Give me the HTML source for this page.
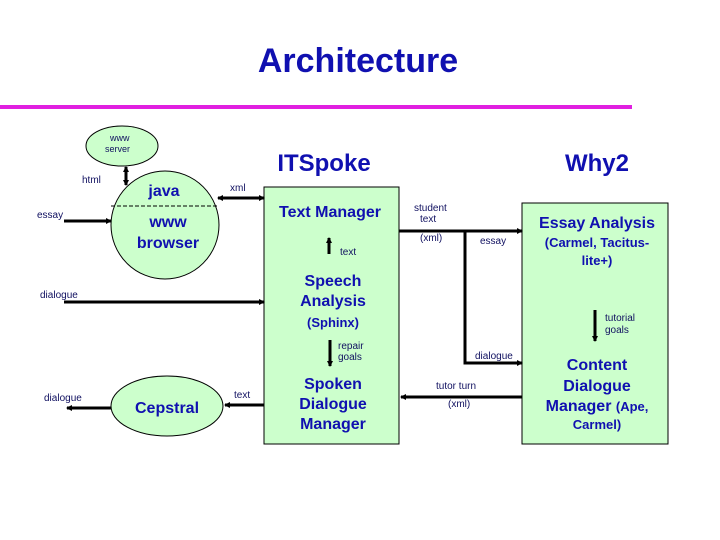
<!DOCTYPE html>
<html><head><style>
body{margin:0;background:#fff;}
svg{display:block;font-family:"Liberation Sans",Arial,sans-serif;}
.b{fill:#1010b0;font-weight:bold;text-anchor:middle;}
.s{fill:#101060;font-size:10px;}
</style></head><body>
<svg width="720" height="540" viewBox="0 0 720 540">
<defs>
<marker id="a" markerWidth="6" markerHeight="6" refX="5" refY="3" orient="auto" markerUnits="userSpaceOnUse" viewBox="0 0 6 6"><path d="M0,0L6,3L0,6z" fill="#000"/></marker>
<marker id="as" markerWidth="6" markerHeight="6" refX="1" refY="3" orient="auto" markerUnits="userSpaceOnUse" viewBox="0 0 6 6"><path d="M6,0L0,3L6,6z" fill="#000"/></marker>
</defs>
<text x="358" y="72" class="b" style="font-size:34px">Architecture</text>
<rect x="0" y="105" width="632" height="4" fill="#e020e0"/>
<rect x="264" y="187" width="135" height="257" fill="#ccffcc" stroke="#000"/>
<rect x="522" y="203" width="146" height="241" fill="#ccffcc" stroke="#000"/>
<ellipse cx="122" cy="146" rx="36" ry="20" fill="#ccffcc" stroke="#000"/>
<circle cx="165" cy="225" r="54" fill="#ccffcc" stroke="#000"/>
<line x1="111" y1="206" x2="219" y2="206" stroke="#000" stroke-dasharray="4,2"/>
<ellipse cx="167" cy="406" rx="56" ry="30" fill="#ccffcc" stroke="#000"/>
<g stroke="#000" stroke-width="3" fill="none">
<line x1="126" y1="167" x2="126" y2="185" marker-end="url(#a)" marker-start="url(#as)"/>
<line x1="64" y1="221" x2="111" y2="221" marker-end="url(#a)"/>
<line x1="218" y1="198" x2="264" y2="198" marker-end="url(#a)" marker-start="url(#as)"/>
<line x1="64" y1="302" x2="264" y2="302" marker-end="url(#a)"/>
<line x1="329" y1="254" x2="329" y2="238" marker-end="url(#a)"/>
<line x1="330" y1="340" x2="330" y2="366" marker-end="url(#a)"/>
<line x1="399" y1="231" x2="522" y2="231" marker-end="url(#a)"/>
<polyline points="465,231 465,363 522,363" marker-end="url(#a)"/>
<line x1="522" y1="397" x2="401" y2="397" marker-end="url(#a)"/>
<line x1="595" y1="310" x2="595" y2="341" marker-end="url(#a)"/>
<line x1="264" y1="405" x2="225" y2="405" marker-end="url(#a)"/>
<line x1="111" y1="408" x2="67" y2="408" marker-end="url(#a)"/>
</g>
<g class="s">
<text x="110" y="141" font-size="9">www</text>
<text x="105" y="152" font-size="9">server</text>
<text x="82" y="183">html</text>
<text x="37" y="218">essay</text>
<text x="230" y="191">xml</text>
<text x="40" y="298">dialogue</text>
<text x="340" y="255">text</text>
<text x="414" y="211">student</text>
<text x="420" y="222">text</text>
<text x="420" y="241">(xml)</text>
<text x="480" y="244">essay</text>
<text x="605" y="321">tutorial</text>
<text x="605" y="333">goals</text>
<text x="338" y="349">repair</text>
<text x="338" y="360">goals</text>
<text x="475" y="359">dialogue</text>
<text x="436" y="389">tutor turn</text>
<text x="448" y="407">(xml)</text>
<text x="234" y="398">text</text>
<text x="44" y="401">dialogue</text>
</g>
<text x="324" y="171" class="b" style="font-size:24px">ITSpoke</text>
<text x="597" y="171" class="b" style="font-size:24px">Why2</text>
<text x="164" y="196" class="b" style="font-size:16px">java</text>
<text x="168" y="227" class="b" style="font-size:16px">www</text>
<text x="168" y="248" class="b" style="font-size:16px">browser</text>
<text x="330" y="217" class="b" style="font-size:16px">Text Manager</text>
<text x="333" y="286" class="b" style="font-size:16px">Speech</text>
<text x="333" y="306" class="b" style="font-size:16px">Analysis</text>
<text x="333" y="327" class="b" style="font-size:13px">(Sphinx)</text>
<text x="333" y="389" class="b" style="font-size:16px">Spoken</text>
<text x="333" y="409" class="b" style="font-size:16px">Dialogue</text>
<text x="333" y="429" class="b" style="font-size:16px">Manager</text>
<text x="597" y="228" class="b" style="font-size:16px">Essay Analysis</text>
<text x="597" y="247" class="b" style="font-size:13px">(Carmel, Tacitus-</text>
<text x="597" y="265" class="b" style="font-size:13px">lite+)</text>
<text x="597" y="370" class="b" style="font-size:16px">Content</text>
<text x="597" y="391" class="b" style="font-size:16px">Dialogue</text>
<text x="597" y="411" class="b" style="font-size:16px">Manager <tspan style="font-size:13px">(Ape,</tspan></text>
<text x="597" y="429" class="b" style="font-size:13px">Carmel)</text>
<text x="167" y="413" class="b" style="font-size:16px">Cepstral</text>
</svg>
</body></html>
